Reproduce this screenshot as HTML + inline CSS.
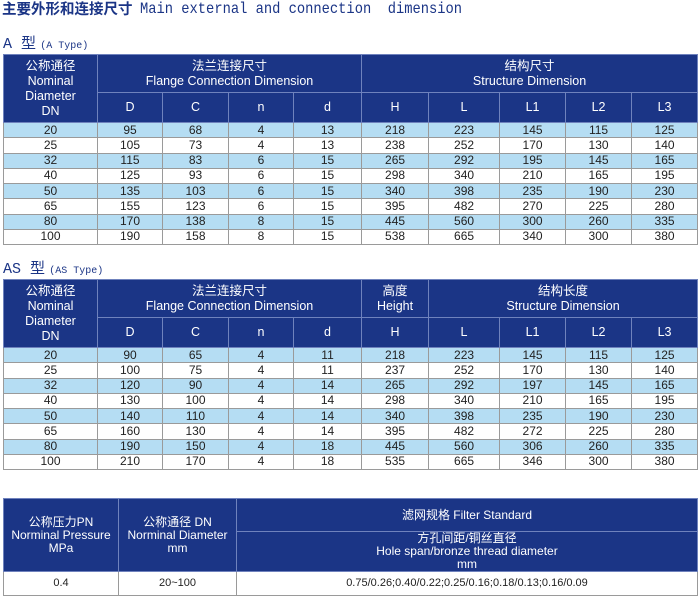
<!DOCTYPE html>
<html><head><meta charset="utf-8">
<style>
body{margin:0;width:700px;height:600px;background:#fff;position:relative;overflow:hidden;font-family:"Liberation Sans","Noto Sans CJK SC",sans-serif;}
.t{position:absolute;color:#1b3586;white-space:nowrap}
table{position:absolute;left:3px;border-collapse:collapse;table-layout:fixed;font-size:12px;color:#222}
td{text-align:center;padding:0;border:1px solid #9a9a9a;line-height:13px;overflow:hidden;white-space:nowrap}
td.h{background:#1b3586;color:#fff;border-color:#6f82bd;font-size:12.5px;line-height:15px}
tr.b td{background:#b5ddf3}
table{border:1px solid #888}
#t3 td.h{font-size:12px;line-height:13px}
</style></head><body>
<div class="t" style="left:2px;top:0px;font-size:14.5px;font-weight:bold;font-family:'Noto Sans CJK SC',sans-serif;line-height:18px">主要外形和连接尺寸</div>
<div class="t" style="left:140px;top:-1px;font-size:16px;font-family:'Liberation Mono',monospace;line-height:20px;transform:scaleX(0.86);transform-origin:0 0">Main external and connection&nbsp; dimension</div>
<div class="t" style="left:3px;top:35px;font-size:15px;line-height:18px"><span style="font-family:'Liberation Mono','Noto Sans CJK SC',monospace">A 型</span> <span style="font-family:'Liberation Mono',monospace;font-size:10px">(A Type)</span></div>

<table style="top:54px;width:694px">
<colgroup><col style="width:94px"><col style="width:65px"><col style="width:66px"><col style="width:65px"><col style="width:68px"><col style="width:67px"><col style="width:71px"><col style="width:66px"><col style="width:66px"><col style="width:66px"></colgroup>
<tr style="height:38px"><td class="h" rowspan="2">公称通径<br>Nominal<br>Diameter<br>DN</td><td class="h" colspan="4">法兰连接尺寸<br>Flange Connection Dimension</td><td class="h" colspan="5">结构尺寸<br>Structure Dimension</td></tr>
<tr style="height:30px"><td class="h">D</td><td class="h">C</td><td class="h">n</td><td class="h">d</td><td class="h">H</td><td class="h">L</td><td class="h">L1</td><td class="h">L2</td><td class="h">L3</td></tr>
<tr class="b" style="height:15.25px"><td>20</td><td>95</td><td>68</td><td>4</td><td>13</td><td>218</td><td>223</td><td>145</td><td>115</td><td>125</td></tr>
<tr style="height:15.25px"><td>25</td><td>105</td><td>73</td><td>4</td><td>13</td><td>238</td><td>252</td><td>170</td><td>130</td><td>140</td></tr>
<tr class="b" style="height:15.25px"><td>32</td><td>115</td><td>83</td><td>6</td><td>15</td><td>265</td><td>292</td><td>195</td><td>145</td><td>165</td></tr>
<tr style="height:15.25px"><td>40</td><td>125</td><td>93</td><td>6</td><td>15</td><td>298</td><td>340</td><td>210</td><td>165</td><td>195</td></tr>
<tr class="b" style="height:15.25px"><td>50</td><td>135</td><td>103</td><td>6</td><td>15</td><td>340</td><td>398</td><td>235</td><td>190</td><td>230</td></tr>
<tr style="height:15.25px"><td>65</td><td>155</td><td>123</td><td>6</td><td>15</td><td>395</td><td>482</td><td>270</td><td>225</td><td>280</td></tr>
<tr class="b" style="height:15.25px"><td>80</td><td>170</td><td>138</td><td>8</td><td>15</td><td>445</td><td>560</td><td>300</td><td>260</td><td>335</td></tr>
<tr style="height:15.25px"><td>100</td><td>190</td><td>158</td><td>8</td><td>15</td><td>538</td><td>665</td><td>340</td><td>300</td><td>380</td></tr>
</table>

<div class="t" style="left:3px;top:260px;font-size:15px;line-height:18px"><span style="font-family:'Liberation Mono','Noto Sans CJK SC',monospace">AS 型</span> <span style="font-family:'Liberation Mono',monospace;font-size:10px">(AS Type)</span></div>

<table style="top:279px;width:694px">
<colgroup><col style="width:94px"><col style="width:65px"><col style="width:66px"><col style="width:65px"><col style="width:68px"><col style="width:67px"><col style="width:71px"><col style="width:66px"><col style="width:66px"><col style="width:66px"></colgroup>
<tr style="height:38px"><td class="h" rowspan="2">公称通径<br>Nominal<br>Diameter<br>DN</td><td class="h" colspan="4">法兰连接尺寸<br>Flange Connection Dimension</td><td class="h">高度<br>Height</td><td class="h" colspan="4">结构长度<br>Structure Dimension</td></tr>
<tr style="height:30px"><td class="h">D</td><td class="h">C</td><td class="h">n</td><td class="h">d</td><td class="h">H</td><td class="h">L</td><td class="h">L1</td><td class="h">L2</td><td class="h">L3</td></tr>
<tr class="b" style="height:15.25px"><td>20</td><td>90</td><td>65</td><td>4</td><td>11</td><td>218</td><td>223</td><td>145</td><td>115</td><td>125</td></tr>
<tr style="height:15.25px"><td>25</td><td>100</td><td>75</td><td>4</td><td>11</td><td>237</td><td>252</td><td>170</td><td>130</td><td>140</td></tr>
<tr class="b" style="height:15.25px"><td>32</td><td>120</td><td>90</td><td>4</td><td>14</td><td>265</td><td>292</td><td>197</td><td>145</td><td>165</td></tr>
<tr style="height:15.25px"><td>40</td><td>130</td><td>100</td><td>4</td><td>14</td><td>298</td><td>340</td><td>210</td><td>165</td><td>195</td></tr>
<tr class="b" style="height:15.25px"><td>50</td><td>140</td><td>110</td><td>4</td><td>14</td><td>340</td><td>398</td><td>235</td><td>190</td><td>230</td></tr>
<tr style="height:15.25px"><td>65</td><td>160</td><td>130</td><td>4</td><td>14</td><td>395</td><td>482</td><td>272</td><td>225</td><td>280</td></tr>
<tr class="b" style="height:15.25px"><td>80</td><td>190</td><td>150</td><td>4</td><td>18</td><td>445</td><td>560</td><td>306</td><td>260</td><td>335</td></tr>
<tr style="height:15.25px"><td>100</td><td>210</td><td>170</td><td>4</td><td>18</td><td>535</td><td>665</td><td>346</td><td>300</td><td>380</td></tr>
</table>

<table id="t3" style="top:498px;width:694px">
<colgroup><col style="width:115px"><col style="width:118px"><col style="width:461px"></colgroup>
<tr style="height:33px"><td class="h" rowspan="2">公称压力PN<br>Norminal Pressure<br>MPa</td><td class="h" rowspan="2">公称通径 DN<br>Norminal Diameter<br>mm</td><td class="h">滤网规格 Filter Standard</td></tr>
<tr style="height:40px"><td class="h">方孔间距/铜丝直径<br>Hole span/bronze thread diameter<br>mm</td></tr>
<tr style="height:24px"><td style="font-size:11px">0.4</td><td style="font-size:11px">20~100</td><td style="font-size:11px">0.75/0.26;0.40/0.22;0.25/0.16;0.18/0.13;0.16/0.09</td></tr>
</table>
</body></html>
